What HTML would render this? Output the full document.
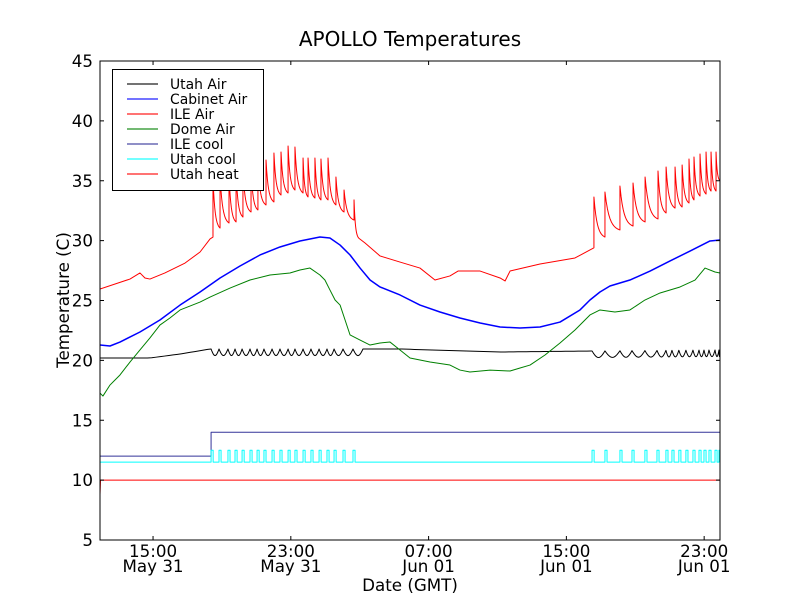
<!DOCTYPE html>
<html><head><meta charset="utf-8"><style>
html,body{margin:0;padding:0;background:#fff;}
svg{display:block;font-family:"DejaVu Sans","Liberation Sans",sans-serif;}
</style></head><body>
<svg id="chart" width="800" height="600" viewBox="0 0 800 600" xmlns="http://www.w3.org/2000/svg">
<rect x="0" y="0" width="800" height="600" fill="#fff"/>
<text x="410" y="46" font-size="20" text-anchor="middle">APOLLO Temperatures</text>
<text x="0" y="0" font-size="16.7" text-anchor="middle" transform="translate(69,300) rotate(-90)">Temperature (C)</text>
<text x="410" y="591" font-size="16.7" text-anchor="middle">Date (GMT)</text>
<g id="plot"></g>
<g id="axes"></g>
<g id="legend"></g>
</svg>
<script>
// ---- data (time in hours since 00:00 May 31 GMT, values in °C) ----
const yTicks = [5,10,15,20,25,30,35,40,45];
const xTickHours = [15,23,31,39,47];
const xTickTimes = ["15:00","23:00","07:00","15:00","23:00"];
const xTickDates = ["May 31","May 31","Jun 01","Jun 01","Jun 01"];

const cabinetT = [11.92,12.50,13.08,14.24,15.40,16.57,17.73,18.89,20.05,21.21,22.37,23.53,24.69,25.27,25.86,26.44,27.02,27.60,28.18,29.34,30.50,31.66,32.82,33.99,35.15,36.31,37.47,38.63,39.79,40.37,40.95,41.53,42.69,43.86,45.02,46.18,47.34,47.92];
const cabinetV = [21.28,21.20,21.53,22.37,23.37,24.62,25.71,26.88,27.88,28.80,29.47,29.97,30.30,30.22,29.63,28.80,27.71,26.71,26.13,25.46,24.62,24.04,23.54,23.12,22.79,22.70,22.79,23.20,24.21,25.04,25.71,26.21,26.71,27.46,28.30,29.13,29.97,30.05];

const domeT = [11.92,12.09,12.50,13.08,13.66,14.24,14.82,15.40,15.98,16.57,17.73,18.31,19.47,20.63,21.79,22.95,23.53,24.11,24.69,24.98,25.27,25.57,25.86,26.15,26.44,27.02,27.60,28.18,28.76,29.34,29.92,31.08,32.24,32.82,33.40,34.57,35.73,36.31,36.89,37.76,38.63,39.50,40.37,40.95,41.82,42.69,43.56,44.44,45.60,46.47,47.05,47.63,47.92];
const domeV = [17.27,17.02,17.94,18.78,19.86,20.87,21.87,22.95,23.54,24.21,24.87,25.29,26.04,26.71,27.13,27.30,27.55,27.71,27.13,26.71,25.88,25.04,24.62,23.37,22.12,21.70,21.28,21.45,21.53,20.87,20.20,19.86,19.61,19.19,19.03,19.19,19.11,19.36,19.61,20.45,21.45,22.54,23.79,24.21,24.04,24.21,25.04,25.63,26.13,26.71,27.71,27.38,27.30];

const utahAirT = [11.92,14.82,16.57,18.31,26.73,29.34,35.15,40.37,47.92];
const utahAirV = [20.20,20.20,20.53,20.95,20.95,20.95,20.70,20.78,20.87];
const utahAirDip = [0.55,0.55];

const pulses1 = [18.37,18.83,19.35,19.76,20.17,20.63,21.04,21.44,21.91,22.37,22.84,23.24,23.71,24.17,24.64,25.10,25.51,26.03,26.61];
const pulses2 = [40.49,41.24,42.11,42.81,43.56,44.26,44.78,45.13,45.53,45.94,46.35,46.70,46.99,47.28,47.63,47.86];
const utahCoolLevels = [11.5,12.5];
const pulseWidth = [0.12];

const ileCoolT = [11.92,18.37,18.37,47.92];
const ileCoolV = [12,12,14,14];
const utahHeatT = [11.92,11.95,47.92];
const utahHeatV = [8.8,10,10];

const ilePreT = [11.92,13.66,14.24,14.53,14.82,15.69,16.86,17.73,18.31];
const ilePreV = [25.96,26.79,27.30,26.88,26.79,27.30,28.13,29.05,30.14];
const spike1T = [18.48,18.89,19.41,19.82,20.22,20.69,21.09,21.56,22.02,22.43,22.84,23.24,23.71,24.00,24.40,24.75,25.16,25.62,26.09,26.67];
const spike1Peak = [35.2,35.4,35.5,35.7,35.8,36.0,36.3,36.73,37.32,37.40,37.90,37.82,36.9,36.9,36.9,36.82,36.9,35.31,34.23,33.40];
const spike1Trough = [30.3,31.05,31.47,31.56,31.97,32.39,32.56,32.98,33.23,33.81,33.98,34.23,33.98,33.65,33.56,33.40,33.40,32.98,32.39,31.72];
const ileTailT = [26.95,27.31,28.18,29.34,30.50,31.37,32.24,32.71,33.99,35.15,35.44,35.73,37.47,39.50,40.37];
const ileTailV = [30.2,29.80,28.72,28.21,27.71,26.71,27.05,27.46,27.46,26.88,26.63,27.46,28.05,28.55,29.22];
const spike2T = [40.60,41.24,42.11,42.87,43.57,44.32,44.79,45.31,45.72,46.12,46.41,46.76,47.11,47.40,47.69];
const spike2Peak = [33.64,34.06,34.56,34.81,35.31,35.81,36.15,36.15,36.32,36.82,36.98,37.23,37.40,37.40,37.40];
const spike2Trough = [29.4,30.30,30.89,31.22,31.56,31.81,32.31,32.72,32.81,33.14,33.40,33.73,33.89,34.14,34.14];
const ileEnd = [47.92,35.0];

// ---- scales ----
const X0=100,X1=720,Y0=61,Y1=540,TMIN=11.92,TMAX=47.92,VMIN=5,VMAX=45;
function X(t){return X0+(t-TMIN)*(X1-X0)/(TMAX-TMIN);}
function Y(v){return Y0+(VMAX-v)*(Y1-Y0)/(VMAX-VMIN);}
const NS="http://www.w3.org/2000/svg";
const plot=document.getElementById('plot'),axes=document.getElementById('axes'),legend=document.getElementById('legend');
function mk(tag,attrs,parent){const e=document.createElementNS(NS,tag);for(const k in attrs)e.setAttribute(k,attrs[k]);parent.appendChild(e);return e;}
function pathFrom(pts){return pts.map((p,i)=>(i?'L':'M')+X(p[0]).toFixed(2)+','+Y(p[1]).toFixed(2)).join('');}
function interp(ts,vs,t){if(t<=ts[0])return vs[0];for(let i=1;i<ts.length;i++){if(t<=ts[i]){const f=(t-ts[i-1])/(ts[i]-ts[i-1]);return vs[i-1]+f*(vs[i]-vs[i-1]);}}return vs[vs.length-1];}
function zip(a,b){return a.map((t,i)=>[t,b[i]]);}

const defs=mk('defs',{},plot);
const cp=mk('clipPath',{id:'clip'},defs);
mk('rect',{x:X0,y:Y0,width:X1-X0,height:Y1-Y0},cp);
const g=mk('g',{'clip-path':'url(#clip)'},plot);

function drawLine(pts,color,name,w){
  const p=mk('path',{d:pathFrom(pts),fill:'none',stroke:color,'stroke-width':w||1,'stroke-linejoin':'round'},g);
  
  
}

drawLine(zip(utahHeatT,utahHeatV),'#ff0000','utah-heat-line');
drawLine(zip(ileCoolT,ileCoolV),'#333399','ile-cool-line');
(function(){
  const pts=[[TMIN,utahCoolLevels[0]]];
  pulses1.concat(pulses2).forEach(t=>{
    pts.push([t,utahCoolLevels[0]],[t,utahCoolLevels[1]],[t+pulseWidth[0],utahCoolLevels[1]],[t+pulseWidth[0],utahCoolLevels[0]]);
  });
  pts.push([TMAX,utahCoolLevels[0]]);
  drawLine(pts,'#00ffff','utah-cool-line');
})();
(function(){
  const pts=[];
  function band(ps,depth,endT){
    for(let i=0;i<ps.length;i++){
      const a=ps[i],b=(i+1<ps.length)?ps[i+1]:Math.min(endT,a+(ps[i]-(ps[i-1]||a-0.45)));
      for(let k=0;k<=10;k++){const t=a+(b-a)*k/10;const f=k/10;pts.push([t,interp(utahAirT,utahAirV,t)-depth*Math.sin(Math.PI*f)]);}
    }
  }
  for(let t=TMIN;t<pulses1[0];t+=0.25)pts.push([t,interp(utahAirT,utahAirV,t)]);
  band(pulses1,utahAirDip[0],TMAX);
  const e1=pts[pts.length-1][0];
  for(let t=e1;t<pulses2[0];t+=0.25)pts.push([t,interp(utahAirT,utahAirV,t)]);
  band(pulses2,utahAirDip[1],TMAX);
  drawLine(pts,'#000000','utah-air-line');
})();
drawLine(zip(domeT,domeV),'#008000','dome-air-line');
drawLine(zip(cabinetT,cabinetV),'#0000ff','cabinet-air-line',1.5);
(function(){
  const pts=zip(ilePreT,ilePreV);
  function spikes(ts,peaks,troughs,nextT,nextV){
    for(let i=0;i<ts.length;i++){
      const t=ts[i],p=peaks[i];
      pts.push([t,troughs[i]],[t,p]);
      const tn=(i+1<ts.length)?ts[i+1]:nextT, vn=(i+1<ts.length)?troughs[i+1]:nextV;
      for(let k=1;k<=12;k++){const f=k/12;const e=(Math.exp(-3.5*f)-f*Math.exp(-3.5));pts.push([t+(tn-t)*f,vn+(p-vn)*e]);}
    }
  }
  spikes(spike1T,spike1Peak,spike1Trough,ileTailT[0],ileTailV[0]);
  zip(ileTailT,ileTailV).forEach(p=>pts.push(p));
  spikes(spike2T,spike2Peak,spike2Trough,ileEnd[0],ileEnd[1]);
  drawLine(pts,'#ff0000','ile-air-line');
})();

const frame=mk('rect',{x:X0,y:Y0,width:X1-X0,height:Y1-Y0,fill:'none',stroke:'#000','stroke-width':1},axes);


yTicks.forEach(v=>{
  const y=Y(v);
  mk('line',{x1:X0,y1:y,x2:X0+4,y2:y,stroke:'#000'},axes);
  mk('line',{x1:X1,y1:y,x2:X1-4,y2:y,stroke:'#000'},axes);
  const t=mk('text',{x:93,y:y+6,'font-size':16.7,'text-anchor':'end'},axes);
  t.textContent=String(v);
  
  
});
xTickHours.forEach((h,i)=>{
  const x=X(h);
  mk('line',{x1:x,y1:Y1,x2:x,y2:Y1-4,stroke:'#000'},axes);
  mk('line',{x1:x,y1:Y0,x2:x,y2:Y0+4,stroke:'#000'},axes);
  const t1=mk('text',{x:x,y:557,'font-size':16.7,'text-anchor':'middle'},axes);
  t1.textContent=xTickTimes[i];
  
  
  const t2=mk('text',{x:x,y:572,'font-size':16.7,'text-anchor':'middle'},axes);
  t2.textContent=xTickDates[i];
  
  
});

const legNames=["Utah Air","Cabinet Air","ILE Air","Dome Air","ILE cool","Utah cool","Utah heat"];
const legColors=["#000000","#0000ff","#ff0000","#008000","#333399","#00ffff","#ff0000"];
const box=mk('rect',{x:112.5,y:69.5,width:151,height:121,fill:'#fff',stroke:'#000','stroke-width':1},legend);


legNames.forEach((n,i)=>{
  const y=84+i*15;
  const ln=mk('line',{x1:127,y1:y,x2:158,y2:y,stroke:legColors[i],'stroke-width':2,'stroke-opacity':0.55},legend);
  
  
  const t=mk('text',{x:170,y:y+5,'font-size':13.9},legend);
  t.textContent=n;
  
  
});
</script>
</body></html>
